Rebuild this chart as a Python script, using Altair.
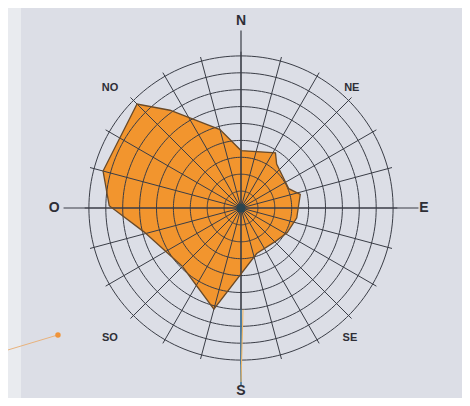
import altair as alt
import pandas as pd
import numpy as np

# ---- data (direction in degrees clockwise from North, radius in ring units) ----
poly_dir = [0, 32, 39, 68, 77, 100, 118, 133, 161, 195, 225, 256, 271, 285, 315, 324, 345]
poly_val = [3.4, 3.85, 3.35, 3.05, 3.6, 3.35, 3.1, 2.85, 2.85, 6.2, 4.9, 5.9, 7.8, 8.45, 8.7, 7.15, 4.8]

ring_vals = [1, 2, 3, 4, 5, 6, 7, 8, 9]
spoke_dirs = list(range(0, 360, 15))
main_dirs = [0, 90, 180, 270]

label_text = ["N", "NE", "E", "SE", "S", "SO", "O", "NO"]
label_dir = [0, 42.8, 90, 140.1, 180, 225.2, 270, 312.4]
label_r = [11.07, 9.65, 10.83, 10.05, 10.85, 10.93, 11.05, 10.5]
label_size = [14, 11, 14, 11, 14, 11, 14, 11]

# ---- layout ----
U = 16.9          # pixels per ring unit
W, H = 454, 390
CX, CY = 233, 200  # centre inside the plot area
xs = alt.Scale(domain=[-CX / U, (W - CX) / U], nice=False, zero=False)
ys = alt.Scale(domain=[-(H - CY) / U, CY / U], nice=False, zero=False)

GRID = "#3a3d46"
ORANGE = "#f2952e"
EDGE = "#6a4a28"

polar_x = "datum.r * sin(datum.d * PI / 180)"
polar_y = "datum.r * cos(datum.d * PI / 180)"

poly_df = pd.DataFrame({"i": range(len(poly_dir)), "d": poly_dir, "r": poly_val})

circ_rows = []
for rv in ring_vals:
    for a in np.arange(0, 361, 2):
        circ_rows.append({"ring": rv, "d": float(a), "r": rv})
circ_df = pd.DataFrame(circ_rows)

spoke_df = pd.DataFrame({"d": spoke_dirs, "r0": 0.0, "r1": 9.25})
axis_df = pd.DataFrame({"d": main_dirs, "r0": 0.0, "r1": 10.5})
lab_df = pd.DataFrame({"t": label_text, "d": label_dir, "r": label_r, "s": label_size})

X = lambda: alt.X("x:Q", scale=xs, axis=None)
Y = lambda: alt.Y("y:Q", scale=ys, axis=None)

strip = alt.Chart(pd.DataFrame({"a": [0]})).mark_rect(color="#e9ebef").encode(
    x=alt.value(0), x2=alt.value(13), y=alt.value(0), y2=alt.value(H)
)

poly_base = alt.Chart(poly_df).transform_calculate(x=polar_x, y=polar_y)
poly_fill = poly_base.mark_line(
    interpolate="linear-closed", fill=ORANGE, stroke=ORANGE, strokeWidth=0
).encode(x=X(), y=Y(), order="i:Q")

rings = alt.Chart(circ_df).transform_calculate(x=polar_x, y=polar_y).mark_line(
    color=GRID, strokeWidth=1
).encode(x=X(), y=Y(), detail="ring:N", order="d:Q")


def rule_layer(df, color, width, **kw):
    return alt.Chart(df).transform_calculate(
        x="datum.r0 * sin(datum.d * PI / 180)",
        y="datum.r0 * cos(datum.d * PI / 180)",
        x2="datum.r1 * sin(datum.d * PI / 180)",
        y2="datum.r1 * cos(datum.d * PI / 180)",
    ).mark_rule(color=color, strokeWidth=width, **kw).encode(
        x=X(), y=Y(), x2="x2:Q", y2="y2:Q",
    )


spokes = rule_layer(spoke_df, GRID, 1)
axes = rule_layer(axis_df, GRID, 1.2)
s_blue = rule_layer(pd.DataFrame({"d": [180], "r0": [6.0], "r1": [10.5]}), "#4a92c2", 1.2)
s_orange = rule_layer(pd.DataFrame({"d": [180], "r0": [6.0], "r1": [10.3]}), "#f0b868", 1.1, xOffset=2)

poly_edge = poly_base.mark_line(
    interpolate="linear-closed", stroke=EDGE, strokeWidth=1.3
).encode(x=X(), y=Y(), order="i:Q")

centre = alt.Chart(pd.DataFrame({"x": [0.0], "y": [0.0]})).mark_circle(
    color="#2a4550", size=85, opacity=1
).encode(x=X(), y=Y())

labels = alt.Chart(lab_df).transform_calculate(x=polar_x, y=polar_y).mark_text(
    font="Liberation Sans", fontWeight="bold", color="#2e2e36",
    align="center", baseline="middle"
).encode(
    x=X(), y=Y(), text="t:N",
    size=alt.Size("s:Q", scale=None, legend=None),
)

# stray orange leader in the scan
lead_df = pd.DataFrame({"x": [-13.79, -10.83], "y": [-8.4, -7.51], "i": [0, 1]})
leader = alt.Chart(lead_df).mark_line(color="#e8b27c", strokeWidth=1).encode(
    x=X(), y=Y(), order="i:Q"
)
dot = alt.Chart(pd.DataFrame({"x": [-10.83], "y": [-7.51]})).mark_circle(
    color="#f0943a", size=30, opacity=1
).encode(x=X(), y=Y())

chart = alt.layer(
    strip, poly_fill, rings, spokes, axes, s_blue, s_orange, poly_edge, centre, labels, leader, dot
).properties(
    width=W, height=H,
    autosize=alt.AutoSizeParams(type="none"),
    padding=0,
    background="#ffffff",
).configure_view(fill="#dcdee6", stroke=None)

chart.save("out.html", embed_options={"renderer": "svg", "actions": False})
